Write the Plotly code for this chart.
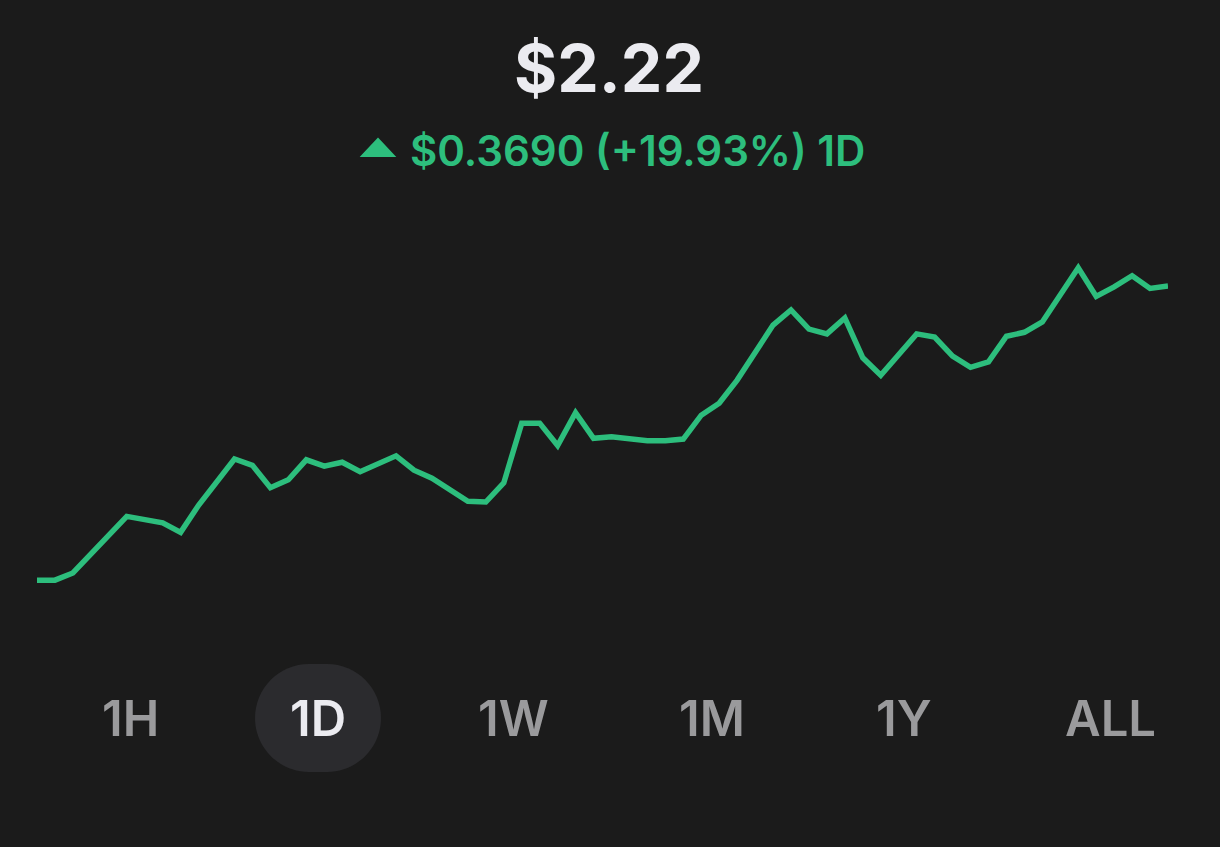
import plotly.graph_objects as go

# sample index over the day and price
t = [0, 1, 2, 5, 7, 8, 9, 11, 12, 13, 14, 15, 16, 17, 18, 20, 21, 22, 24, 25,
     26, 27, 28, 29, 30, 31, 32, 33, 34, 35, 36, 37, 38, 39, 40, 41, 42, 43, 44,
     45, 46, 47, 49, 50, 51, 52, 53, 54, 55, 56, 58, 59, 60, 61, 62, 63]
price = [1.851, 1.851, 1.860, 1.931, 1.923, 1.911, 1.945, 2.003, 1.995, 1.967,
         1.977, 2.002, 1.994, 1.999, 1.987, 2.007, 1.989, 1.979, 1.950, 1.949,
         1.973, 2.048, 2.048, 2.020, 2.061, 2.029, 2.031, 2.028, 2.026, 2.026,
         2.028, 2.058, 2.073, 2.102, 2.135, 2.171, 2.190, 2.166, 2.160, 2.180,
         2.130, 2.108, 2.160, 2.156, 2.132, 2.118, 2.125, 2.157, 2.162, 2.175,
         2.243, 2.207, 2.219, 2.233, 2.217, 2.220]

ranges = ['1H', '1D', '1W', '1M', '1Y', 'ALL']
selected = '1D'

last_price = '$2.22'
change_text = '$0.3690 (+19.93%) 1D'

BG = '#1b1b1b'
GREEN = '#2dbe7d'
W, H = 1220, 847
L, R, T, B = 37, 52, 200, 227
PW, PH = W - L - R, H - T - B


def px(x):
    # page pixel -> paper x
    return (x - L) / PW


def py(y):
    # page pixel (from top) -> paper y
    return (H - B - y) / PH


fig = go.Figure()
fig.add_trace(go.Scatter(x=t, y=price, mode='lines',
                         line=dict(color=GREEN, width=5.5),
                         hoverinfo='skip'))

fig.update_layout(
    width=W, height=H,
    paper_bgcolor=BG, plot_bgcolor=BG,
    margin=dict(l=L, r=R, t=T, b=B),
    showlegend=False,
    font=dict(family='Inter, Roboto, sans-serif'),
    xaxis=dict(range=[0, 63], visible=False, fixedrange=True),
    yaxis=dict(range=[1.801, 2.328], visible=False, fixedrange=True),
)

# header
fig.add_annotation(text='<b>' + last_price + '</b>', xref='paper', yref='paper',
                   x=px(609), y=py(68), xanchor='center', yanchor='middle',
                   showarrow=False, font=dict(size=66, color='#ebebf0'))
fig.add_annotation(text=change_text, xref='paper', yref='paper',
                   x=px(408), y=py(150), xanchor='left', yanchor='middle',
                   showarrow=False, font=dict(size=42, color=GREEN, weight=600))
tri = f'M {px(362)},{py(156)} L {px(378)},{py(139)} L {px(394)},{py(156)} Z'
fig.add_shape(type='path', path=tri, xref='paper', yref='paper',
              fillcolor=GREEN, line=dict(color=GREEN, width=2))

# range selector, pill behind the selected label
range_x = [130, 318, 513, 712, 904, 1110]
cy = 718
cx = range_x[ranges.index(selected)]
hw, hh, r = 63, 54, 54
k = 0.45  # bezier handle for a round corner
x0, x1 = px(cx - hw), px(cx + hw)
y0, y1 = py(cy + hh), py(cy - hh)
rx, ry = r / PW, r / PH
path = (f'M {x0 + rx},{y0} L {x1 - rx},{y0} '
        f'C {x1 - rx * k},{y0} {x1},{y0 + ry * k} {x1},{y0 + ry} '
        f'L {x1},{y1 - ry} '
        f'C {x1},{y1 - ry * k} {x1 - rx * k},{y1} {x1 - rx},{y1} '
        f'L {x0 + rx},{y1} '
        f'C {x0 + rx * k},{y1} {x0},{y1 - ry * k} {x0},{y1 - ry} '
        f'L {x0},{y0 + ry} '
        f'C {x0},{y0 + ry * k} {x0 + rx * k},{y0} {x0 + rx},{y0} Z')
fig.add_shape(type='path', path=path, xref='paper', yref='paper',
              fillcolor='#2b2b2e', line=dict(width=0), layer='below')

for lab, xx in zip(ranges, range_x):
    fig.add_annotation(text=lab, x=px(xx), y=py(cy),
                       xref='paper', yref='paper', xanchor='center', yanchor='middle',
                       showarrow=False,
                       font=dict(size=49, weight=600,
                                 color='#ebebf0' if lab == selected else '#9a9a9c'))

fig.write_html('out.html', config={'displayModeBar': False},
               post_script="document.body.style.margin='0';")
